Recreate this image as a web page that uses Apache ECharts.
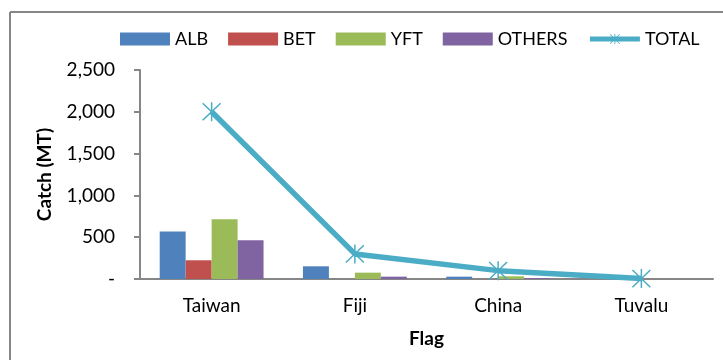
<!DOCTYPE html>
<html>
<head>
<meta charset="utf-8">
<script src="https://cdn.jsdelivr.net/npm/echarts@6/dist/echarts.min.js"></script>
<style>
  html, body { margin: 0; padding: 0; background: #fff; }
  #chart { width: 723px; height: 360px; }
</style>
</head>
<body>
<div id="chart"></div>
<script>
var flags = ['Taiwan', 'Fiji', 'China', 'Tuvalu'];
var alb = [567, 152, 28, 0];
var bet = [224, 0, 0, 0];
var yft = [714, 76, 32, 0];
var others = [463, 28, 10, 0];
var total = [2000, 300, 100, 5];

var FONT = 'Lato';
// asterisk marker like the excel "star"
var starPath = 'path://M9.25,0L10.75,0L10.75,20L9.25,20Z' +
    'M1.53,0.47L19.53,18.47L18.47,19.53L0.47,1.53Z' +
    'M18.47,0.47L19.53,1.53L1.53,19.53L0.47,18.47Z';

var chart = echarts.init(document.getElementById('chart'));

function barSeries(name, data, color) {
    return {
        name: name,
        type: 'bar',
        data: data,
        barGap: 0,
        barCategoryGap: '27.5%',
        itemStyle: { color: color },
        emphasis: { disabled: true }
    };
}

var option = {
    animation: false,
    textStyle: { fontFamily: FONT },
    graphic: [
        { type: 'line', shape: { x1: 10, y1: 12, x2: 723, y2: 12 }, style: { stroke: '#868686', lineWidth: 2 } },
        { type: 'line', shape: { x1: 10, y1: 12, x2: 10, y2: 360 }, style: { stroke: '#868686', lineWidth: 2 } }
    ],
    legend: {
        left: 120,
        top: 30,
        width: 603,
        padding: 0,
        itemWidth: 50,
        itemHeight: 13,
        itemGap: 20,
        textStyle: { fontFamily: FONT, fontSize: 18, color: '#000' },
        data: [
            { name: 'ALB', icon: 'rect' },
            { name: 'BET', icon: 'rect' },
            { name: 'YFT', icon: 'rect' },
            { name: 'OTHERS', icon: 'rect' },
            { name: 'TOTAL', lineStyle: { width: 5 } }
        ]
    },
    grid: { left: 140, right: 10, top: 70, bottom: 81 },
    xAxis: {
        type: 'category',
        data: flags,
        name: 'Flag',
        nameLocation: 'middle',
        nameGap: 50,
        nameTextStyle: { fontFamily: FONT, fontSize: 19, fontWeight: 'bold', color: '#000' },
        axisLine: { lineStyle: { color: '#868686', width: 2 } },
        axisTick: { length: 6, lineStyle: { color: '#868686', width: 2 } },
        axisLabel: { fontFamily: FONT, fontSize: 19, color: '#000', margin: 17 }
    },
    yAxis: {
        type: 'value',
        min: 0,
        max: 2500,
        interval: 500,
        name: 'Catch (MT)',
        nameLocation: 'middle',
        nameGap: 86,
        nameTextStyle: { fontFamily: FONT, fontSize: 19, fontWeight: 'bold', color: '#000' },
        axisLine: { show: true, lineStyle: { color: '#868686', width: 2 } },
        axisTick: { show: true, length: 6, lineStyle: { color: '#868686', width: 2 } },
        splitLine: { show: false },
        axisLabel: {
            fontFamily: FONT, fontSize: 19, color: '#000', margin: 25,
            formatter: function (v) {
                return v === 0 ? '-' : v.toLocaleString('en-US');
            }
        }
    },
    series: [
        barSeries('ALB', alb, '#4f81bd'),
        barSeries('BET', bet, '#c0504d'),
        barSeries('YFT', yft, '#9bbb59'),
        barSeries('OTHERS', others, '#8064a2'),
        {
            name: 'TOTAL',
            type: 'line',
            data: total,
            symbol: starPath,
            symbolSize: 19,
            lineStyle: { color: '#4bacc6', width: 5.5 },
            itemStyle: { color: '#4bacc6' },
            emphasis: { disabled: true },
            z: 5
        }
    ]
};

chart.setOption(option);
</script>
</body>
</html>
